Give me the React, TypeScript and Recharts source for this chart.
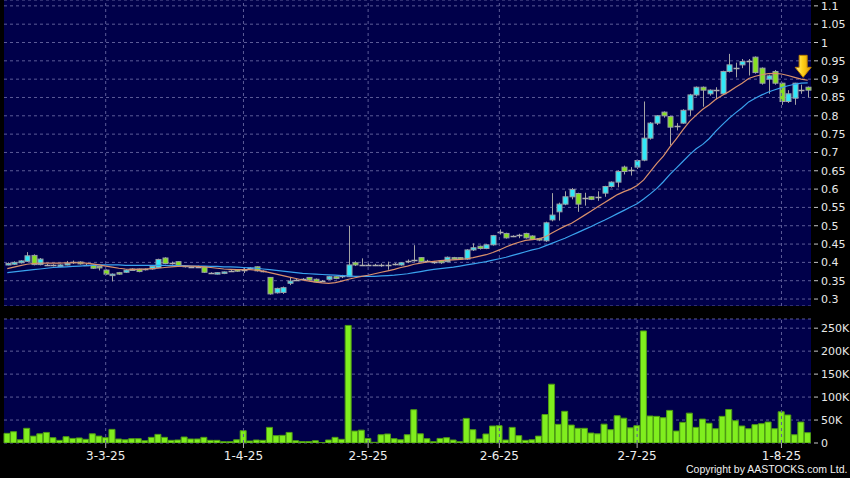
import React from "react";
import {
  Bar,
  CartesianGrid,
  ComposedChart,
  Line,
  ReferenceDot,
  ReferenceLine,
  XAxis,
  YAxis,
} from "recharts";

// daily OHLC (index 0 = first candle, ~10-2-25)
const open = [
  0.394, 0.395, 0.399, 0.403, 0.419, 0.394, 0.393, 0.392, 0.389, 0.393,
  0.399, 0.401, 0.394, 0.393, 0.389, 0.379, 0.364, 0.372, 0.373, 0.382,
  0.382, 0.38, 0.382, 0.386, 0.412, 0.398, 0.402, 0.389, 0.388, 0.388,
  0.388, 0.371, 0.369, 0.37, 0.377, 0.38, 0.379, 0.384, 0.388, 0.376,
  0.359, 0.317, 0.318, 0.343, 0.352, 0.354, 0.359, 0.354, 0.35, 0.354,
  0.361, 0.362, 0.361, 0.399, 0.393, 0.394, 0.393, 0.394, 0.393, 0.395,
  0.393, 0.404, 0.406, 0.413, 0.405, 0.4, 0.404, 0.402, 0.413, 0.413,
  0.409, 0.434, 0.444, 0.438, 0.448, 0.484, 0.479, 0.472, 0.474, 0.479,
  0.472, 0.465, 0.459, 0.516, 0.538, 0.559, 0.579, 0.588, 0.575, 0.579,
  0.579, 0.589, 0.607, 0.619, 0.66, 0.651, 0.66, 0.679, 0.739, 0.78,
  0.81, 0.798, 0.772, 0.78, 0.816, 0.857, 0.878, 0.86, 0.87, 0.86,
  0.921, 0.93, 0.939, 0.95, 0.96, 0.93, 0.9, 0.921, 0.889, 0.839,
  0.848, 0.87, 0.878,
];
const high = [
  0.4, 0.403, 0.406, 0.428, 0.422, 0.412, 0.396, 0.395, 0.395, 0.404,
  0.405, 0.403, 0.397, 0.394, 0.39, 0.381, 0.37, 0.374, 0.381, 0.384,
  0.383, 0.383, 0.39, 0.41, 0.414, 0.402, 0.403, 0.391, 0.39, 0.391,
  0.389, 0.373, 0.373, 0.375, 0.379, 0.381, 0.386, 0.387, 0.389, 0.378,
  0.36, 0.331, 0.334, 0.359, 0.356, 0.357, 0.36, 0.356, 0.352, 0.363,
  0.362, 0.366, 0.5, 0.403, 0.411, 0.398, 0.396, 0.397, 0.402, 0.398,
  0.401, 0.408, 0.447, 0.414, 0.407, 0.404, 0.406, 0.416, 0.415, 0.414,
  0.436, 0.452, 0.446, 0.45, 0.475, 0.49, 0.481, 0.474, 0.478, 0.481,
  0.474, 0.467, 0.511, 0.589, 0.563, 0.594, 0.603, 0.59, 0.59, 0.58,
  0.594, 0.609, 0.621, 0.651, 0.664, 0.66, 0.68, 0.839, 0.783, 0.802,
  0.812, 0.8, 0.78, 0.818, 0.86, 0.88, 0.88, 0.872, 0.878, 0.923,
  0.969, 0.945, 0.955, 0.955, 0.962, 0.932, 0.912, 0.925, 0.89, 0.87,
  0.89, 0.885, 0.88,
];
const low = [
  0.392, 0.393, 0.397, 0.401, 0.392, 0.392, 0.39, 0.389, 0.387, 0.392,
  0.396, 0.394, 0.392, 0.382, 0.378, 0.366, 0.348, 0.366, 0.371, 0.378,
  0.373, 0.378, 0.38, 0.385, 0.395, 0.394, 0.389, 0.386, 0.386, 0.386,
  0.371, 0.369, 0.367, 0.368, 0.374, 0.374, 0.371, 0.382, 0.375, 0.373,
  0.312, 0.315, 0.314, 0.338, 0.349, 0.352, 0.35, 0.345, 0.347, 0.352,
  0.354, 0.357, 0.36, 0.39, 0.39, 0.391, 0.39, 0.388, 0.38, 0.392,
  0.391, 0.398, 0.402, 0.4, 0.402, 0.396, 0.396, 0.4, 0.408, 0.407,
  0.407, 0.431, 0.435, 0.436, 0.446, 0.476, 0.465, 0.469, 0.466, 0.465,
  0.461, 0.458, 0.456, 0.512, 0.514, 0.556, 0.572, 0.538, 0.555, 0.57,
  0.568, 0.579, 0.604, 0.605, 0.64, 0.637, 0.655, 0.676, 0.735, 0.775,
  0.795, 0.72, 0.76, 0.778, 0.8, 0.853, 0.825, 0.855, 0.845, 0.857,
  0.918, 0.905, 0.93, 0.91, 0.915, 0.885, 0.86, 0.885, 0.83, 0.835,
  0.83, 0.86, 0.85,
];
const close = [
  0.397, 0.4, 0.404, 0.418, 0.394, 0.409, 0.394, 0.392, 0.393, 0.397,
  0.4, 0.396, 0.394, 0.384, 0.385, 0.368, 0.368, 0.368, 0.379, 0.38,
  0.375, 0.381, 0.389, 0.408, 0.397, 0.398, 0.391, 0.389, 0.388, 0.388,
  0.373, 0.371, 0.372, 0.374, 0.377, 0.376, 0.379, 0.384, 0.377, 0.376,
  0.314, 0.329, 0.331, 0.349, 0.352, 0.355, 0.352, 0.347, 0.35, 0.361,
  0.356, 0.362, 0.393, 0.393, 0.393, 0.394, 0.393, 0.394, 0.393, 0.395,
  0.399, 0.404, 0.406, 0.402, 0.405, 0.4, 0.399, 0.414, 0.411, 0.41,
  0.434, 0.44, 0.438, 0.448, 0.473, 0.484, 0.467, 0.472, 0.474, 0.467,
  0.463, 0.463, 0.508, 0.529, 0.559, 0.579, 0.599, 0.559, 0.575, 0.572,
  0.579, 0.607, 0.619, 0.648, 0.648, 0.651, 0.678, 0.739, 0.78, 0.8,
  0.8, 0.769, 0.772, 0.815, 0.857, 0.878, 0.87, 0.87, 0.87, 0.921,
  0.939, 0.93, 0.948, 0.95, 0.918, 0.889, 0.909, 0.889, 0.839, 0.86,
  0.889, 0.87, 0.87,
];
const volume = [
  21000, 24600, 7000, 32000, 15000, 20000, 23000, 11600, 5800, 13800,
  10000, 11000, 8000, 20000, 15000, 11600, 29700, 8700, 7000, 9400,
  9400, 5000, 12300, 18800, 12300, 5800, 6500, 13000, 8700, 8700,
  12300, 5800, 5800, 2900, 2900, 7000, 26800, 4300, 6500, 5800,
  34000, 16000, 16700, 23000, 5000, 3000, 3000, 5000, 700, 6500,
  12300, 8000, 256000, 26000, 28000, 10000, 1500, 18000, 19600, 9400,
  7000, 18000, 72500, 20000, 9400, 2900, 10000, 11600, 6500, 2900,
  53600, 29000, 8700, 19600, 37000, 37700, 6500, 34000, 16000, 5800,
  7000, 15000, 62000, 128000, 40600, 69000, 39000, 32000, 32000, 21700,
  20000, 41000, 29000, 59400, 54000, 33000, 37700, 244000, 58700, 58000,
  55000, 71000, 26000, 45000, 65000, 34000, 52000, 43000, 31000, 58000,
  73000, 48500, 37000, 31000, 40000, 42000, 45600, 31000, 68000, 61000,
  18000, 45600, 22500,
];
// moving-average curves as drawn (orange = short, blue = long)
const maShort = [
  0.383, 0.387, 0.391, 0.395, 0.397, 0.398, 0.398, 0.398, 0.398, 0.399,
  0.399, 0.399, 0.398, 0.396, 0.393, 0.39, 0.387, 0.384, 0.382, 0.381,
  0.381, 0.382, 0.383, 0.384, 0.386, 0.388, 0.389, 0.39, 0.39, 0.389,
  0.388, 0.386, 0.384, 0.382, 0.381, 0.38, 0.38, 0.38, 0.379, 0.376,
  0.372, 0.368, 0.364, 0.36, 0.356, 0.352, 0.349, 0.346, 0.344, 0.343,
  0.345, 0.349, 0.354, 0.358, 0.362, 0.365, 0.369, 0.373, 0.377, 0.381,
  0.386, 0.39, 0.395, 0.398, 0.401, 0.403, 0.405, 0.406, 0.407, 0.408,
  0.41, 0.413, 0.417, 0.421, 0.427, 0.434, 0.442, 0.449, 0.455, 0.46,
  0.462, 0.464, 0.47, 0.48, 0.49, 0.499, 0.507, 0.518, 0.529, 0.54,
  0.552, 0.563, 0.574, 0.585, 0.593, 0.6, 0.61, 0.625, 0.648, 0.67,
  0.69, 0.715, 0.738, 0.762, 0.785, 0.802, 0.818, 0.83, 0.845, 0.856,
  0.866, 0.878, 0.889, 0.902, 0.908, 0.912, 0.915, 0.916, 0.914, 0.91,
  0.905, 0.9, 0.897,
];
const maLong = [
  0.372, 0.374, 0.376, 0.378, 0.38, 0.382, 0.384, 0.386, 0.387, 0.388,
  0.389, 0.39, 0.391, 0.392, 0.393, 0.393, 0.393, 0.393, 0.392, 0.392,
  0.392, 0.392, 0.392, 0.392, 0.392, 0.391, 0.391, 0.391, 0.39, 0.39,
  0.39, 0.389, 0.389, 0.388, 0.388, 0.387, 0.386, 0.385, 0.384, 0.382,
  0.38, 0.378, 0.376, 0.374, 0.372, 0.37, 0.369, 0.368, 0.367, 0.366,
  0.365, 0.364, 0.363, 0.362, 0.362, 0.362, 0.362, 0.363, 0.364, 0.365,
  0.367, 0.369, 0.372, 0.375, 0.378, 0.381, 0.383, 0.385, 0.387, 0.39,
  0.393, 0.396, 0.399, 0.402, 0.406, 0.41, 0.414, 0.419, 0.424, 0.429,
  0.434, 0.438, 0.445, 0.452, 0.459, 0.466, 0.474, 0.482, 0.49, 0.498,
  0.507, 0.515, 0.524, 0.533, 0.542, 0.551, 0.56, 0.573, 0.587, 0.602,
  0.62, 0.64, 0.658, 0.676, 0.694, 0.71, 0.722, 0.738, 0.758, 0.776,
  0.793, 0.808, 0.822, 0.838, 0.848, 0.857, 0.865, 0.871, 0.877, 0.882,
  0.886, 0.889, 0.89,
];

const dateTickIdx = [15, 36, 55, 75, 96, 118];
const dateTickLabels = ["3-3-25", "1-4-25", "2-5-25", "2-6-25", "2-7-25", "1-8-25"];
const priceTicks = [
  0.3, 0.35, 0.4, 0.45, 0.5, 0.55, 0.6, 0.65, 0.7, 0.75, 0.8, 0.85, 0.9,
  0.95, 1, 1.05, 1.1,
];
const volumeTicks = [0, 50000, 100000, 150000, 200000, 250000];
const arrowIdx = 121;
const arrowPrice = 0.935;

const rows = open.map((o, i) => ({
  i,
  o,
  h: high[i],
  l: low[i],
  c: close[i],
  v: volume[i],
  ma1: maShort[i],
  ma2: maLong[i],
}));

const BG = "#00004a";
const GRID = "#5c5c98";
const FONT = "DejaVu Sans";

function Candle(props: any) {
  const { x, y, width, height, payload } = props;
  const { o, h, l, c } = payload;
  const top = Math.min(y, y + height);
  const bottom = Math.max(y, y + height);
  const k = (bottom - top) / (h - l || 1);
  const py = (v: number) => top + (h - v) * k;
  const cx = Math.round(x + width / 2) + 0.5;
  const wick = <line x1={cx} x2={cx} y1={top} y2={bottom} stroke="#a4a4a4" strokeWidth={1} />;
  if (Math.abs(o - c) < 0.0015) {
    const yy = Math.round(py(c)) + 0.5;
    return (
      <g>
        {wick}
        <line x1={cx - 3} x2={cx + 3} y1={yy} y2={yy} stroke="#b0b0b0" strokeWidth={1.5} />
      </g>
    );
  }
  const up = c > o;
  const bt = py(Math.max(o, c));
  const bb = py(Math.min(o, c));
  return (
    <g>
      {wick}
      <rect
        x={cx - 2.5}
        y={bt}
        width={5}
        height={Math.max(bb - bt, 1.5)}
        fill={up ? "#30e8f8" : "#86e020"}
        stroke="#9aa0a8"
        strokeWidth={1}
      />
    </g>
  );
}

function RightTick(props: any) {
  const { x, y, payload, fmt } = props;
  return (
    <g>
      <line x1={x - 5} x2={x - 1} y1={y} y2={y} stroke="#c8c8c8" />
      <text x={x + 2} y={y} dy={4} fill="#e8e8e8" fontSize={11} fontFamily={FONT}>
        {fmt(payload.value)}
      </text>
    </g>
  );
}

function Arrow(props: any) {
  const { cx, cy } = props;
  const x = cx + 2;
  const t = cy - 11;
  const d = `M${x - 4},${t} L${x + 4},${t} L${x + 4},${t + 12} L${x + 8},${t + 12} L${x},${t + 22} L${x - 8},${t + 12} L${x - 4},${t + 12} Z`;
  return (
    <g>
      <defs>
        <linearGradient id="arrowFill" x1="0" y1="0" x2="1" y2="0">
          <stop offset="0" stopColor="#fff2a0" />
          <stop offset="0.45" stopColor="#ffd21a" />
          <stop offset="1" stopColor="#e09a00" />
        </linearGradient>
      </defs>
      <path d={d} fill="url(#arrowFill)" stroke="#c08400" strokeWidth={1} />
    </g>
  );
}

const fmtPrice = (v: number) => String(v);
const fmtVol = (v: number) => (v === 0 ? "0" : `${v / 1000}K`);

export default function App() {
  return (
    <div
      style={{
        position: "absolute",
        left: 0,
        top: 0,
        width: 850,
        height: 478,
        background: "#000",
        overflow: "hidden",
      }}
    >
      <div style={{ position: "absolute", left: 0, top: 0 }}>
        <ComposedChart width={850} height={306} data={rows} margin={{ top: 0, right: 0, bottom: 0, left: 4 }}>
          <CartesianGrid vertical={false} stroke={GRID} strokeDasharray="3 3" fill={BG} fillOpacity={1} />
          <XAxis dataKey="i" hide />
          <YAxis
            orientation="right"
            width={39}
            domain={[0.281, 1.116]}
            ticks={priceTicks}
            allowDataOverflow
            axisLine={false}
            tickLine={false}
            tickSize={4}
            tickMargin={4}
            interval={0}
            tick={<RightTick fmt={fmtPrice} />}
          />
          {dateTickIdx.map((t) => (
            <ReferenceLine key={t} x={t} stroke={GRID} strokeDasharray="3 3" />
          ))}
          <Line dataKey="ma2" stroke="#3aa2ee" strokeWidth={1.2} dot={false} isAnimationActive={false} />
          <Line dataKey="ma1" stroke="#d9906c" strokeWidth={1.2} dot={false} isAnimationActive={false} />
          <Bar
            dataKey={(d: any) => [d.l, d.h]}
            barSize={5}
            shape={<Candle />}
            isAnimationActive={false}
          />
          <ReferenceDot x={arrowIdx} y={arrowPrice} r={8} shape={<Arrow />} />
        </ComposedChart>
      </div>
      <div style={{ position: "absolute", left: 0, top: 316 }}>
        <ComposedChart width={850} height={162} data={rows} margin={{ top: 3, right: 0, bottom: 0, left: 4 }}>
          <CartesianGrid vertical={false} stroke={GRID} strokeDasharray="3 3" fill={BG} fillOpacity={1} />
          <XAxis
            dataKey="i"
            ticks={dateTickIdx}
            interval={0}
            height={35}
            axisLine={false}
            tickLine={{ stroke: "#b0b0b0" }}
            tickSize={5}
            tickMargin={3}
            tickFormatter={(v: number) => dateTickLabels[dateTickIdx.indexOf(v)] ?? ""}
            tick={{ fill: "#eeeeee", fontSize: 12, fontFamily: FONT }}
          />
          <YAxis
            orientation="right"
            width={39}
            domain={[0, 270000]}
            ticks={volumeTicks}
            allowDataOverflow
            axisLine={false}
            tickLine={false}
            tickSize={4}
            tickMargin={4}
            interval={0}
            tick={<RightTick fmt={fmtVol} />}
          />
          {dateTickIdx.map((t) => (
            <ReferenceLine key={t} x={t} stroke={GRID} strokeDasharray="3 3" />
          ))}
          <Bar dataKey="v" barSize={6} fill="#80ee1e" stroke="#4e9c14" strokeWidth={1} isAnimationActive={false} />
        </ComposedChart>
      </div>
      <div
        style={{
          position: "absolute",
          left: 686,
          top: 463,
          color: "#f0f0f0",
          fontFamily: "Liberation Sans",
          fontSize: 10.5,
          lineHeight: "13px",
          whiteSpace: "nowrap",
        }}
      >
        Copyright by AASTOCKS.com Ltd.
      </div>
    </div>
  );
}
